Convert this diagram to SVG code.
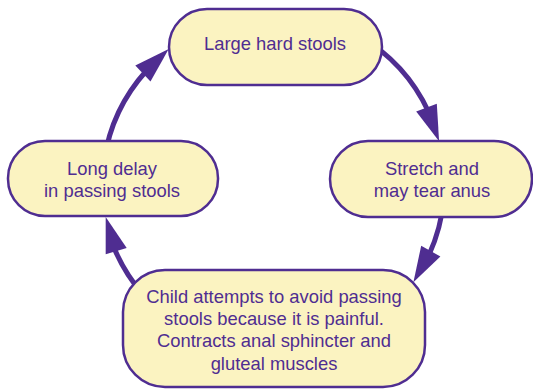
<svg xmlns="http://www.w3.org/2000/svg" width="533" height="390" viewBox="0 0 533 390">
<style>
.box{fill:#fbf3c1;stroke:#4f2d91;stroke-width:2.5}
.t{font-family:"Liberation Sans",Arial,sans-serif;font-size:18.4px;fill:#4f2d91;text-anchor:middle}
.arc{fill:none;stroke:#4f2d91;stroke-width:5}
.head{fill:#4f2d91}
</style>
<rect width="533" height="390" fill="#ffffff"/>
<g id="connectors">
<path class="arc" d="M359,35.9 A171,171 0 0 1 428.5,111.7"/>
<polygon class="head" points="439.1,141.2 436.8,103.8 416.2,111.6"/>
<path class="arc" d="M443.8,198.9 A171,171 0 0 1 428.7,255.5"/>
<polygon class="head" points="413.4,282.3 440.4,256.5 421.2,245.7"/>
<path class="arc" d="M142.5,293.9 A171,171 0 0 1 113.6,246.8"/>
<polygon class="head" points="105.7,216.9 126.7,247.9 105.7,254.3"/>
<path class="arc" d="M104.2,160.2 A171,171 0 0 1 146.4,70.8"/>
<polygon class="head" points="168.7,48.9 150.5,81.6 135.3,65.6"/>
</g>
<g id="node-top">
<rect class="box" x="169" y="9" width="213" height="76" rx="38"/>
<text class="t" x="275" y="49.5">Large hard stools</text>
</g>
<g id="node-right">
<rect class="box" x="330" y="141" width="202" height="76" rx="38"/>
<text class="t" x="432" y="174.5">Stretch and</text>
<text class="t" x="432" y="196.5">may tear anus</text>
</g>
<g id="node-left">
<rect class="box" x="8" y="141" width="210" height="75" rx="37"/>
<text class="t" x="112" y="175">Long delay</text>
<text class="t" x="112" y="196.5">in passing stools</text>
</g>
<g id="node-bottom">
<rect class="box" x="123" y="270" width="302" height="117" rx="42"/>
<text class="t" x="274" y="303">Child attempts to avoid passing</text>
<text class="t" x="274" y="325.2">stools because it is painful.</text>
<text class="t" x="274" y="347.4">Contracts anal sphincter and</text>
<text class="t" x="274" y="369.6">gluteal muscles</text>
</g>
</svg>
